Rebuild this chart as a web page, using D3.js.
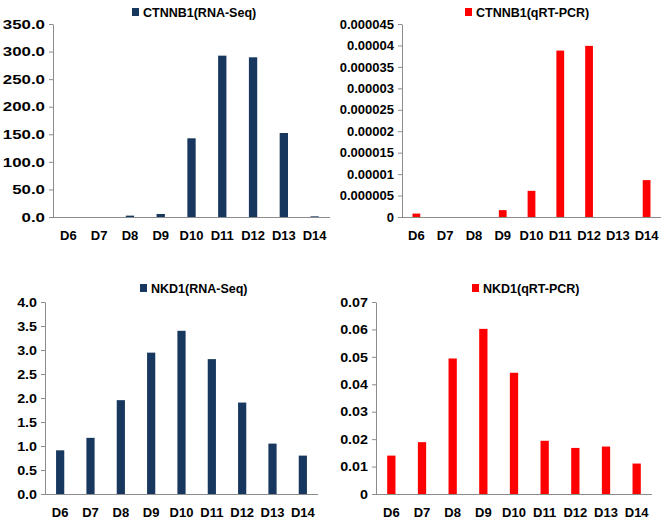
<!DOCTYPE html>
<html>
<head>
<meta charset="utf-8">
<script src="https://cdn.jsdelivr.net/npm/d3@7"></script>
<style>
    body { margin: 0; background: #fff; }
    text { font-family: "Liberation Sans", Arial, sans-serif; font-weight: bold; fill: #000; }
</style>
</head>
<body>
<div id="draw"></div>
<script>
//数据
var days = ["D6", "D7", "D8", "D9", "D10", "D11", "D12", "D13", "D14"];
var ctnnb1Rna = [0, 0, 2.5, 5.5, 142.7, 292.6, 289.6, 152.3, 1.2];
var ctnnb1Qpcr = [0.0000008, 0, 0, 0.0000016, 0.0000061, 0.0000388, 0.0000399, 0, 0.0000086];
var nkd1Rna = [0.91, 1.17, 1.955, 2.945, 3.40, 2.81, 1.905, 1.05, 0.80];
var nkd1Qpcr = [0.0140, 0.0189, 0.0494, 0.0602, 0.0442, 0.0194, 0.0168, 0.0173, 0.0111];

var ctnnb1RnaTicks = [0, 50, 100, 150, 200, 250, 300, 350];
var ctnnb1QpcrTicks = [0, 0.000005, 0.00001, 0.000015, 0.00002, 0.000025, 0.00003, 0.000035, 0.00004, 0.000045];
var nkd1RnaTicks = [0, 0.5, 1, 1.5, 2, 2.5, 3, 3.5, 4];
var nkd1QpcrTicks = [0, 0.01, 0.02, 0.03, 0.04, 0.05, 0.06, 0.07];

var navy = "#17375e";
var red = "#ff0000";

//四个面板
var panels = [
    {name: "CTNNB1(RNA-Seq)", values: ctnnb1Rna, ticks: ctnnb1RnaTicks, color: navy,
     fmt: d3.format(".1f"), left: 53, right: 330, top: 24, bottom: 217, legX: 132, legY: 8, yScaleX: 1.3},
    {name: "CTNNB1(qRT-PCR)", values: ctnnb1Qpcr, ticks: ctnnb1QpcrTicks, color: red,
     fmt: function(d) { return String(+d.toFixed(6)); }, left: 402, right: 661, top: 24, bottom: 217, legX: 465, legY: 8, yScaleX: 1},
    {name: "NKD1(RNA-Seq)", values: nkd1Rna, ticks: nkd1RnaTicks, color: navy,
     fmt: d3.format(".1f"), left: 45, right: 318, top: 302, bottom: 494, legX: 140, legY: 284, yScaleX: 1.1},
    {name: "NKD1(qRT-PCR)", values: nkd1Qpcr, ticks: nkd1QpcrTicks, color: red,
     fmt: function(d) { return String(+d.toFixed(2)); }, left: 376, right: 652, top: 302, bottom: 494, legX: 472, legY: 284, yScaleX: 1.1}
];

var svg = d3.select("#draw")
    .append("svg")
    .attr("width", 667)
    .attr("height", 524);

panels.forEach(draw_panel);

function draw_panel(p) {
    var g = svg.append("g");
    var ymax = p.ticks[p.ticks.length - 1];

    var x = d3.scaleBand()
        .domain(days)
        .range([p.left, p.right])
        .paddingInner(0.73)
        .paddingOuter(0.365);
    var y = d3.scaleLinear()
        .domain([0, ymax])
        .range([p.bottom, p.top]);

    //柱子
    g.selectAll("rect.bar")
        .data(p.values)
        .enter()
        .append("rect")
        .attr("class", "bar")
        .attr("x", function(d, i) { return x(days[i]); })
        .attr("y", function(d) { return y(d); })
        .attr("width", x.bandwidth())
        .attr("height", function(d) { return y(0) - y(d); })
        .attr("fill", p.color);

    //y轴
    var yAxis = g.append("g")
        .attr("transform", "translate(" + p.left + ",0)")
        .call(d3.axisLeft(y).tickValues(p.ticks).tickFormat(p.fmt).tickSize(4).tickPadding(4).tickSizeOuter(0));
    yAxis.select(".domain").attr("stroke", "#8c8c8c");
    yAxis.selectAll(".tick line").attr("stroke", "#8c8c8c");
    yAxis.selectAll(".tick text")
        .attr("font-size", "13px")
        .attr("font-family", null)
        .attr("fill", "#000")
        .attr("transform", function() {
            var xx = +d3.select(this).attr("x");
            return "translate(" + xx + ",0) scale(" + p.yScaleX + ",1) translate(" + (-xx) + ",0)";
        });

    //x轴
    var xAxis = g.append("g")
        .attr("transform", "translate(0," + p.bottom + ")")
        .call(d3.axisBottom(x).tickSize(0).tickPadding(14).tickSizeOuter(0));
    xAxis.select(".domain").attr("stroke", "#8c8c8c")
        .attr("d", "M" + p.left + ",0.5H" + p.right);
    xAxis.selectAll(".tick text")
        .attr("font-size", "13px")
        .attr("font-family", null)
        .attr("fill", "#000");

    //图例
    g.append("rect")
        .attr("x", p.legX)
        .attr("y", p.legY)
        .attr("width", 7)
        .attr("height", 8)
        .attr("fill", p.color);
    g.append("text")
        .attr("x", p.legX + 11)
        .attr("y", p.legY + 9)
        .attr("font-size", "12.5px")
        .text(p.name);
}
</script>
</body>
</html>
